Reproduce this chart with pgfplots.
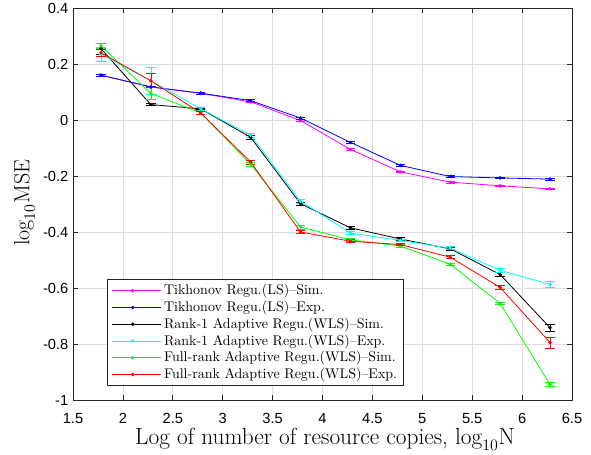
\documentclass[border=0pt]{standalone}
\usepackage{fontspec}
\usepackage{pgfplots}
\usepackage{pgfplotstable}
\pgfplotsset{compat=1.18}
\newfontfamily\ticksf{Liberation Sans}
\definecolor{mgrid}{gray}{0.87}
\definecolor{maxis}{gray}{0.15}
\definecolor{cMag}{rgb}{1,0,1}
\definecolor{cBlue}{rgb}{0,0,1}
\definecolor{cBlack}{rgb}{0,0,0}
\definecolor{cCyan}{rgb}{0,1,1}
\definecolor{cGreen}{rgb}{0,1,0}
\definecolor{cRed}{rgb}{1,0,0}

\pgfplotstableread{
x y e
1.78 0.160 0.003
2.28 0.118 0.003
2.78 0.095 0.003
3.28 0.065 0.003
3.78 -0.002 0.003
4.28 -0.105 0.003
4.78 -0.185 0.003
5.28 -0.222 0.003
5.78 -0.235 0.003
6.28 -0.246 0.003
}\tikSim
\pgfplotstableread{
x y e
1.78 0.160 0.003
2.28 0.118 0.003
2.78 0.096 0.003
3.28 0.069 0.004
3.78 0.007 0.004
4.28 -0.080 0.004
4.78 -0.162 0.003
5.28 -0.202 0.003
5.78 -0.207 0.003
6.28 -0.211 0.003
}\tikExp
\pgfplotstableread{
x y e
1.78 0.255 0.020
2.28 0.055 0.003
2.78 0.040 0.003
3.28 -0.062 0.006
3.78 -0.299 0.005
4.28 -0.385 0.006
4.78 -0.425 0.005
5.28 -0.460 0.005
5.78 -0.552 0.008
6.28 -0.742 0.013
}\rSim
\pgfplotstableread{
x y e
1.78 0.235 0.025
2.28 0.140 0.048
2.78 0.040 0.004
3.28 -0.054 0.007
3.78 -0.290 0.008
4.28 -0.404 0.006
4.78 -0.430 0.005
5.28 -0.458 0.005
5.78 -0.537 0.006
6.28 -0.587 0.012
}\rExp
\pgfplotstableread{
x y e
1.78 0.265 0.010
2.28 0.095 0.022
2.78 0.025 0.004
3.28 -0.158 0.006
3.78 -0.382 0.007
4.28 -0.428 0.004
4.78 -0.450 0.004
5.28 -0.515 0.004
5.78 -0.655 0.004
6.28 -0.945 0.007
}\fSim
\pgfplotstableread{
x y e
1.78 0.240 0.012
2.28 0.140 0.025
2.78 0.025 0.004
3.28 -0.150 0.007
3.78 -0.400 0.005
4.28 -0.433 0.005
4.78 -0.445 0.004
5.28 -0.490 0.006
5.78 -0.598 0.008
6.28 -0.795 0.020
}\fExp

\begin{document}
\begin{tikzpicture}
\begin{axis}[
  scale only axis,
  width=374.25pt, height=294pt,
  xmin=1.5, xmax=6.5, ymin=-1, ymax=0.4,
  xtick={1.5,2,2.5,3,3.5,4,4.5,5,5.5,6,6.5},
  xticklabels={1.5,2,2.5,3,3.5,4,4.5,5,5.5,6,6.5},
  ytick={-1,-0.8,-0.6,-0.4,-0.2,0,0.2,0.4},
  yticklabels={-1,-0.8,-0.6,-0.4,-0.2,0,0.2,0.4},
  ticklabel style={font=\ticksf\fontsize{11}{13}\selectfont},
  xticklabel style={yshift=-6.5pt},
  tick align=inside,
  major tick length=3.5pt,
  tick style={maxis, line width=0.5pt},
  axis line style={maxis, line width=0.5pt},
  grid=major,
  major grid style={mgrid, line width=0.5pt},
  xlabel={Log of number of resource copies, $\log_{10}$N},
  ylabel={$\log_{10}$MSE},
  ylabel style={font=\fontsize{16.5}{19}\selectfont, at={(axis description cs:-0.0872,0.503)}, anchor=base},
  xlabel style={font=\fontsize{17.5}{20}\selectfont, at={(axis description cs:0.505,0)}, anchor=base, yshift=-33.75pt},
  every axis plot/.append style={line width=0.6pt, mark=*, mark size=1pt,
     error bars/y dir=both, error bars/y explicit,
     error bars/error mark options={rotate=90, mark size=3.5pt, line width=0.6pt}},
  legend cell align=left,
  legend style={at={(axis description cs:0.068,0.036)}, anchor=south west,
     font=\fontsize{10.5}{12}\selectfont, draw=maxis, line width=0.5pt,
     inner xsep=3pt, inner ysep=2pt, row sep=0pt,
     nodes={inner ysep=1.6pt}},
  legend image code/.code={
    \draw[#1, mark repeat=2, mark phase=2] plot coordinates {(0cm,0cm) (0.555cm,0cm) (1.11cm,0cm)};
    \path (0cm,0cm) -- (1.3cm,0cm);},
]
\addplot[cMag] table[x=x,y=y,y error=e]{\tikSim};
\addlegendentry{Tikhonov Regu.(LS)--Sim.}
\addplot[cBlue] table[x=x,y=y,y error=e]{\tikExp};
\addlegendentry{Tikhonov Regu.(LS)--Exp.}
\addplot[cBlack] table[x=x,y=y,y error=e]{\rSim};
\addlegendentry{Rank-1 Adaptive Regu.(WLS)--Sim.}
\addplot[cCyan] table[x=x,y=y,y error=e]{\rExp};
\addlegendentry{Rank-1 Adaptive Regu.(WLS)--Exp.}
\addplot[cGreen] table[x=x,y=y,y error=e]{\fSim};
\addlegendentry{Full-rank Adaptive Regu.(WLS)--Sim.}
\addplot[cRed] table[x=x,y=y,y error=e]{\fExp};
\addlegendentry{Full-rank Adaptive Regu.(WLS)--Exp.}
\end{axis}
\pgfresetboundingbox
\path ([shift={(-54.75pt,-41.25pt)}]current axis.south west) rectangle ([shift={(14.25pt,6pt)}]current axis.north east);
\end{tikzpicture}
\end{document}
